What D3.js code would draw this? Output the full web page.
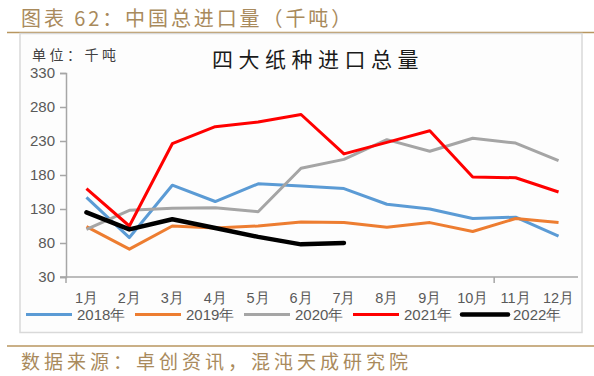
<!DOCTYPE html>
<html>
<head>
<meta charset="utf-8">
<script src="https://cdn.jsdelivr.net/npm/d3@7"></script>
<style>
	body { margin: 0; background: #ffffff; }
	svg { display: block; }
</style>
</head>
<body>
<div id="chart"></div>
<script>
// data (thousand tonnes)
var months = ["1月", "2月", "3月", "4月", "5月", "6月", "7月", "8月", "9月", "10月", "11月", "12月"];
var years = ["2018年", "2019年", "2020年", "2021年", "2022年"];
var v2018 = [147, 88, 165, 141, 167, 164, 160, 137, 130, 116, 118, 90];
var v2019 = [104, 71, 105, 102, 105, 111, 110, 103, 110, 97, 116, 110];
var v2020 = [100, 128, 131, 132, 126, 190, 203, 232, 215, 234, 227, 201];
var v2021 = [160, 105, 226, 251, 258, 269, 211, 228, 245, 177, 176, 155];
var v2022 = [125, 100, 115, 102, 89, 78, 80];
var yTicks = [30, 80, 130, 180, 230, 280, 330];

var seriesValues = [v2018, v2019, v2020, v2021, v2022];
var colors = ["#5b9bd5", "#ed7d31", "#a5a5a5", "#ff0000", "#000000"];
var widths = [3, 3, 3, 3, 4.5];

var W = 594, H = 376;
var gold = "#b8965f";
var titleColor = "#a98a5c";

var svg = d3.select("#chart").append("svg")
	.attr("width", W).attr("height", H);

// page title and rules
svg.append("text").text("图表 62：中国总进口量（千吨）")
	.attr("x", 21).attr("y", 26)
	.attr("font-family", "Noto Sans CJK SC").attr("font-size", "20px")
	.attr("letter-spacing", "2.9px")
	.attr("fill", titleColor);
svg.append("line").attr("x1", 7).attr("x2", W).attr("y1", 32.5).attr("y2", 32.5)
	.attr("stroke", gold).attr("stroke-width", 1.5);

// chart frame
svg.append("rect").attr("x", 20).attr("y", 33.5).attr("width", 562).attr("height", 299)
	.attr("fill", "#fdfdfd").attr("stroke", "#d9d9d9").attr("stroke-width", 1.5);

svg.append("line").attr("x1", 7).attr("x2", W).attr("y1", 346).attr("y2", 346)
	.attr("stroke", gold).attr("stroke-width", 1.5);
svg.append("text").text("数据来源：卓创资讯，混沌天成研究院")
	.attr("x", 21).attr("y", 369)
	.attr("font-family", "Noto Sans CJK SC").attr("font-size", "19px")
	.attr("letter-spacing", "4px")
	.attr("fill", titleColor);

// chart title and unit
svg.append("text").text("四大纸种进口总量")
	.attr("x", 212).attr("y", 67)
	.attr("font-family", "Noto Sans CJK SC").attr("font-size", "21px")
	.attr("letter-spacing", "5.5px")
	.attr("fill", "#1a1a1a");
svg.append("text").text("单位：千吨")
	.attr("x", 32).attr("y", 60)
	.attr("font-family", "Noto Sans CJK SC").attr("font-size", "14px")
	.attr("letter-spacing", "3.5px")
	.attr("fill", "#404040");

// scales
var x = d3.scaleBand().domain(months).range([65, 580]);
var xc = function(m) { return x(m) + x.bandwidth() / 2; };
var y = d3.scaleLinear().domain([30, 330]).range([277, 73]);

// y axis
var yAxis = svg.append("g").attr("transform", "translate(66,0)")
	.call(d3.axisLeft(y).tickValues(yTicks).tickSize(6).tickPadding(5));
yAxis.select(".domain").attr("stroke", "#a6a6a6").attr("stroke-width", 1.5);
yAxis.selectAll(".tick line").attr("stroke", "#a6a6a6").attr("stroke-width", 1.5);
yAxis.selectAll("text").attr("font-family", "Liberation Sans").attr("font-size", "15px")
	.attr("fill", "#595959");

// x axis: line with ticks only at a couple of band edges, labels below
svg.append("line").attr("x1", 60).attr("x2", x.range()[1] - 2)
	.attr("y1", y(30)).attr("y2", y(30))
	.attr("stroke", "#a6a6a6").attr("stroke-width", 1.5);
[months[0], months[10]].forEach(function(m) {
	var xp = Math.max(x(m), 66);
	svg.append("line").attr("x1", xp).attr("x2", xp)
		.attr("y1", y(30)).attr("y2", y(30) + 6)
		.attr("stroke", "#a6a6a6").attr("stroke-width", 1.5);
});
svg.selectAll("xlabels").data(months).enter().append("text")
	.text(function(d) { return d; })
	.attr("x", function(d) { return xc(d); })
	.attr("y", 303)
	.attr("text-anchor", "middle")
	.attr("font-family", "Liberation Sans").attr("font-size", "14.5px")
	.attr("fill", "#595959");

// series lines
var line = d3.line()
	.x(function(d, i) { return xc(months[i]); })
	.y(function(d) { return y(d); });

seriesValues.forEach(function(vals, k) {
	svg.append("path").datum(vals)
		.attr("d", line)
		.attr("fill", "none")
		.attr("stroke", colors[k])
		.attr("stroke-width", widths[k])
		.attr("stroke-linejoin", "round")
		.attr("stroke-linecap", k == 4 ? "round" : "butt");
});

// legend
var legendX = 26, legendY = 314.5, legendStep = 109;
years.forEach(function(yr, k) {
	var lx = legendX + legendStep * k;
	svg.append("line").attr("x1", lx).attr("x2", lx + 46)
		.attr("y1", legendY).attr("y2", legendY)
		.attr("stroke", colors[k]).attr("stroke-width", widths[k])
		.attr("stroke-linecap", k == 4 ? "round" : "butt");
	svg.append("text").text(yr)
		.attr("x", lx + 51).attr("y", legendY + 5.5)
		.attr("font-family", "Liberation Sans").attr("font-size", "15px")
		.attr("fill", "#595959");
});
</script>
</body>
</html>
